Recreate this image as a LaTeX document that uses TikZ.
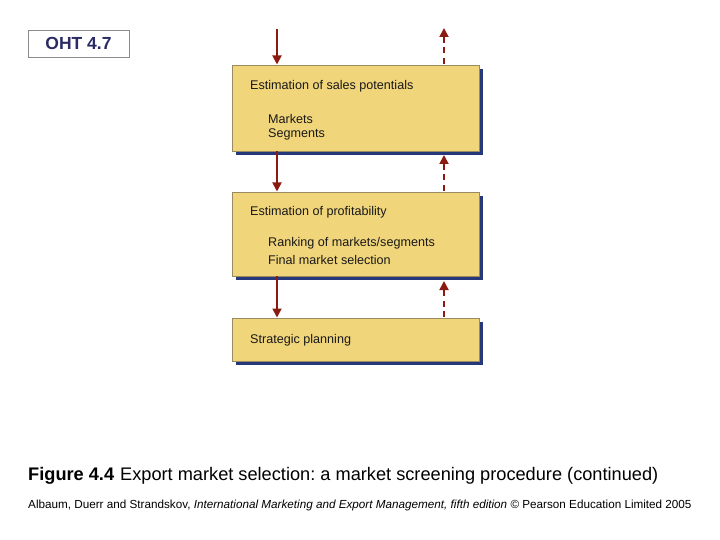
\documentclass[tikz,border=0pt]{standalone}
\usepackage{fontspec}
\setmainfont{Liberation Sans}
\usetikzlibrary{arrows.meta}
\definecolor{boxfill}{HTML}{F1D57A}
\definecolor{boxline}{HTML}{9A8A60}
\definecolor{shadowc}{HTML}{26377A}
\definecolor{arrowc}{HTML}{8B1A10}
\definecolor{ohtc}{HTML}{2A2A66}
\tikzset{
  stagebox/.style={draw=boxline, line width=0.6pt, fill=boxfill},
  boxtext/.style={anchor=west, inner sep=0pt, font=\fontsize{12.6}{14}\selectfont, text=black!90},
  downarrow/.style={draw=arrowc, line width=1.8pt, -{Triangle[length=9pt,width=9pt]}},
  uparrow/.style={draw=arrowc, line width=1.8pt, dash pattern=on 6pt off 4.5pt, -{Triangle[length=9pt,width=9pt]}}
}
\frenchspacing
\begin{document}
\begin{tikzpicture}[x=1pt,y=-1pt]
\useasboundingbox (0,0) rectangle (720,540);
% OHT label
\node[draw=black!45, line width=0.6pt, minimum width=101pt, minimum height=27pt, inner sep=0pt,
  font=\bfseries\fontsize{17.5}{19}\selectfont, text=ohtc] (oht) at (78.5,43.5) {OHT 4.7};
% shadows
\fill[shadowc] (236,69) rectangle (483,155);
\fill[shadowc] (236,196) rectangle (483,280);
\fill[shadowc] (236,322) rectangle (483,365);
% boxes
\node[stagebox, minimum width=247pt, minimum height=86pt, inner sep=0pt] (b1) at (355.5,108) {};
\node[stagebox, minimum width=247pt, minimum height=84pt, inner sep=0pt] (b2) at (355.5,234) {};
\node[stagebox, minimum width=247pt, minimum height=43pt, inner sep=0pt] (b3) at (355.5,339.5) {};
% texts
\node[boxtext] (t1) at (250,86.5) {Estimation of sales potentials};
\node[boxtext] (t1a) at (268,118.5) {Markets};
\node[boxtext] (t1b) at (268,134.5) {Segments};
\node[boxtext] (t2) at (250,212.5) {Estimation of profitability};
\node[boxtext] (t2a) at (268,243.5) {Ranking of markets/segments};
\node[boxtext] (t2b) at (268,259.5) {Final market selection};
\node[boxtext] (t3) at (250,340.5) {Strategic planning};
% arrow ends
\coordinate (in1) at (277,29);
\coordinate (out1) at (444,28);
\draw[downarrow] (in1) -- (277,64.5);
\draw[downarrow] (277,151) -- (277,191.5);
\draw[downarrow] (277,276) -- (277,317.5);
\draw[uparrow] (444,64) -- (out1);
\draw[uparrow] (444,191) -- (444,155);
\draw[uparrow] (444,317) -- (444,281);
% caption
\node[anchor=west, inner sep=0pt, font=\fontsize{18.2}{21}\selectfont] (cap) at (28,476)
  {\textbf{Figure 4.4}\hspace{6pt}Export market selection: a market screening procedure (continued)};
\node[anchor=west, inner sep=0pt, font=\fontsize{11.7}{13}\selectfont] (cite) at (28,505)
  {Albaum, Duerr and Strandskov, \textit{International Marketing and Export Management, fifth edition} © Pearson Education Limited 2005};
\end{tikzpicture}
\end{document}
